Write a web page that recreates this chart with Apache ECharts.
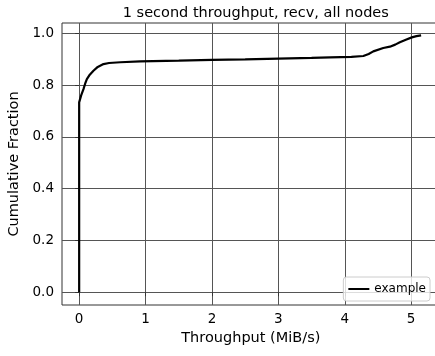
<!DOCTYPE html>
<html>
<head>
<meta charset="utf-8">
<script src="https://cdn.jsdelivr.net/npm/echarts@6/dist/echarts.min.js"></script>
<style>html,body{margin:0;padding:0;background:#fff}#c{width:435px;height:356px}</style>
</head>
<body>
<div id="c"></div>
<script>
const xTicks = [0, 1, 2, 3, 4, 5];
const yTicks = [0.0, 0.2, 0.4, 0.6, 0.8, 1.0];
const throughput = [0, 0, 0.03, 0.065, 0.09, 0.116, 0.16, 0.215, 0.28, 0.366, 0.45, 0.62, 0.92, 1.5, 2.0, 2.5, 3.0, 3.5, 3.78, 4.1, 4.28, 4.36, 4.43, 4.58, 4.68, 4.76, 4.83, 4.92, 5.01, 5.08, 5.15];
const fraction   = [0, 0.733, 0.76, 0.784, 0.805, 0.823, 0.84, 0.855, 0.87, 0.881, 0.885, 0.888, 0.891, 0.894, 0.897, 0.899, 0.902, 0.905, 0.907, 0.909, 0.912, 0.92, 0.93, 0.943, 0.948, 0.956, 0.965, 0.975, 0.984, 0.989, 0.992];
const seriesName = 'example';

const FONT = 'DejaVu Sans';
const chart = echarts.init(document.getElementById('c'), null, {renderer: 'canvas'});
chart.setOption({
  animation: false,
  textStyle: {fontFamily: FONT},
  title: {
    text: '1 second throughput, recv, all nodes',
    left: 250.8, top: 1, textAlign: 'center',
    textStyle: {fontFamily: FONT, fontSize: 14.5, fontWeight: 'normal', color: '#000'}
  },
  grid: {left: 62, right: -4.6, top: 23, bottom: 51, containLabel: false, outerBoundsMode: 'none',
    show: true, borderColor: '#333', borderWidth: 1, backgroundColor: '#fff'},
  legend: {
    right: 5, top: 277, orient: 'vertical',
    padding: [5, 4, 5, 5],
    icon: 'rect',
    itemWidth: 21, itemHeight: 2, itemGap: 5,
    backgroundColor: 'rgba(255,255,255,0.8)', borderColor: '#ccc', borderWidth: 1, borderRadius: 3,
    textStyle: {fontFamily: FONT, fontSize: 12, color: '#000', lineHeight: 14},
    data: [seriesName]
  },
  xAxis: {
    type: 'value', min: -0.2585, max: 5.4285,
    name: 'Throughput (MiB/s)', nameLocation: 'middle', nameGap: 26,
    nameTextStyle: {fontFamily: FONT, fontSize: 14.5, color: '#000'},
    axisLine: {show: false},
    axisTick: {show: true, customValues: xTicks, length: 4, lineStyle: {color: '#333'}},
    axisLabel: {customValues: xTicks, fontFamily: FONT, fontSize: 13.5, color: '#000', margin: 7},
    splitLine: {show: true, lineStyle: {color: '#555', width: 1}}
  },
  yAxis: {
    type: 'value', min: -0.0495, max: 1.0395,
    name: 'Cumulative Fraction', nameLocation: 'middle', nameGap: 32,
    nameTextStyle: {fontFamily: FONT, fontSize: 14.5, color: '#000'},
    axisLine: {show: false},
    axisTick: {show: true, customValues: yTicks, length: 4, lineStyle: {color: '#333'}},
    axisLabel: {customValues: yTicks, fontFamily: FONT, fontSize: 13.5, color: '#000', margin: 8,
      formatter: v => v.toFixed(1)},
    splitLine: {show: true, lineStyle: {color: '#555', width: 1}}
  },
  series: [{
    name: seriesName, type: 'line', symbol: 'none',
    data: throughput.map((x, i) => [x, fraction[i]]),
    lineStyle: {color: '#000', width: 2.2},
    itemStyle: {color: '#000'},
    clip: true
  }]
});
</script>
</body>
</html>
